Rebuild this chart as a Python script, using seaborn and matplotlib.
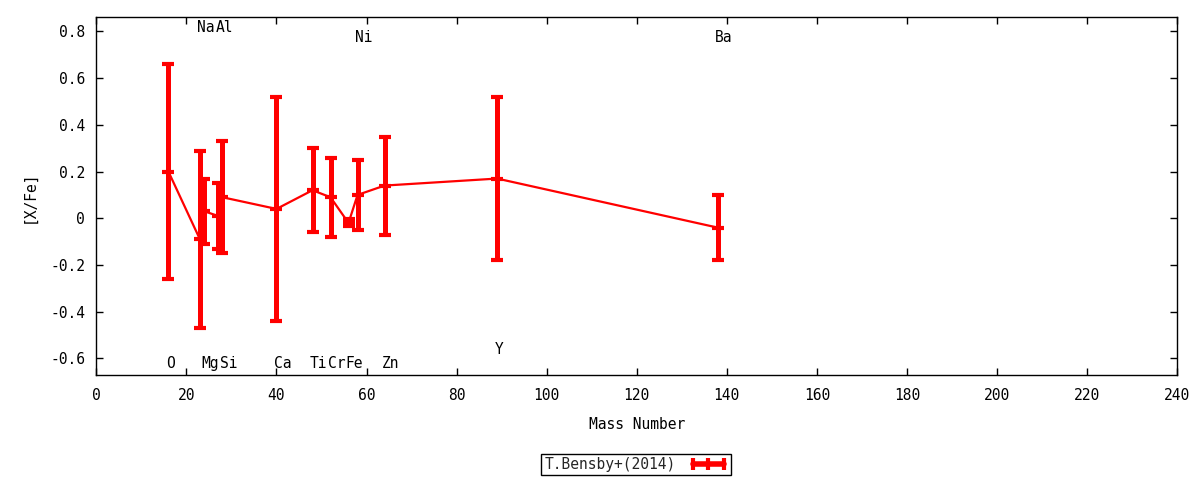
import matplotlib
matplotlib.use("Agg")
import matplotlib.pyplot as plt
import seaborn as sns
import pandas as pd
from matplotlib.lines import Line2D

# ---- data ----
elements = ["O", "Na", "Mg", "Al", "Si", "Ca", "Ti", "Cr", "Fe", "Ni", "Zn", "Y", "Ba"]
mass = [16, 23, 24, 27, 28, 40, 48, 52, 56, 58, 64, 89, 138]
xfe = [0.20, -0.09, 0.03, 0.01, 0.09, 0.04, 0.12, 0.09, -0.02, 0.10, 0.14, 0.17, -0.04]
err = [0.46, 0.38, 0.14, 0.14, 0.24, 0.48, 0.18, 0.17, 0.015, 0.15, 0.21, 0.35, 0.14]
label_y = [-0.62, 0.817, -0.62, 0.817, -0.62, -0.62, -0.62, -0.62, -0.62, 0.773, -0.62, -0.56, 0.773]
series_name = "T.Bensby+(2014)"

df = pd.DataFrame({"mass": mass, "xfe": xfe, "err": err})

sns.set_theme(style="white")
plt.rcParams["font.family"] = ["DejaVu Sans Mono", "DejaVu Sans"]
plt.rcParams["font.size"] = 10.5

fig = plt.figure(figsize=(12, 4.8), dpi=100)
ax = fig.add_axes([0.0803, 0.2181, 0.9006, 0.7458])

red = "#ff0000"
sns.lineplot(data=df, x="mass", y="xfe", ax=ax, color=red, linewidth=1.6,
             estimator=None, sort=False, legend=False)
ax.errorbar(df["mass"], df["xfe"], yerr=df["err"], fmt="none", ecolor=red,
            elinewidth=3.6, capsize=4, capthick=3)
ax.plot(df["mass"], df["xfe"], linestyle="none", marker="_", markersize=8,
        markeredgewidth=3, color=red)

for el, m, ly in zip(elements, mass, label_y):
    ax.text(m - 0.6, ly, el, ha="left", va="center", fontsize=10.5, color="black")

ax.set_xlim(0, 240)
ax.set_ylim(-0.672, 0.86)
ax.set_xticks(range(0, 241, 20))
ax.set_yticks([-0.6, -0.4, -0.2, 0, 0.2, 0.4, 0.6, 0.8])
ax.set_yticklabels(["-0.6", "-0.4", "-0.2", "0", "0.2", "0.4", "0.6", "0.8"])
ax.tick_params(direction="in", length=5, width=1, color="black",
               top=True, right=True, bottom=True, left=True,
               labelsize=10.5, labelcolor="black")
ax.tick_params(axis="y", pad=8)
ax.tick_params(axis="x", pad=9)
for sp in ax.spines.values():
    sp.set_color("black")
    sp.set_linewidth(1)
    sp.set_visible(True)

ax.set_xlabel("Mass Number", fontsize=10.5, color="black", labelpad=10)
ax.set_ylabel("[X/Fe]", fontsize=10.5, color="black", labelpad=10)

handle = Line2D([0], [0], color=red, linewidth=4, marker="|", markersize=9,
                markeredgewidth=3)
leg = ax.legend([handle], [series_name], loc="center", bbox_to_anchor=(0.4994, -0.249),
                frameon=True, fancybox=False, framealpha=1, edgecolor="black",
                markerfirst=False, numpoints=3, handlelength=2.7, borderpad=0.2,
                fontsize=10.5, borderaxespad=0, handletextpad=0.9)
leg.get_frame().set_linewidth(1)

fig.savefig("out.png", dpi=100)
